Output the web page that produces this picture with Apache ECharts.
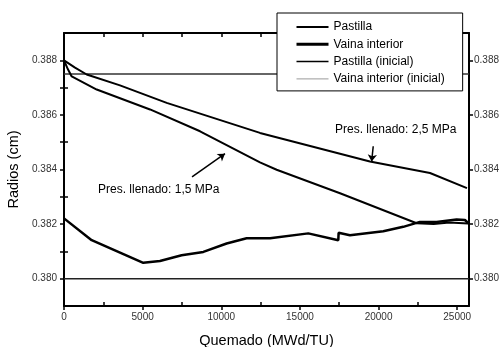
<!DOCTYPE html>
<html><head><meta charset="utf-8">
<script src="https://cdn.jsdelivr.net/npm/echarts@6/dist/echarts.min.js"></script>
<style>html,body{margin:0;padding:0;background:#fff}#c{width:502px;height:347px}</style>
</head><body><div id="c"></div>
<script>
const burnup25 = [0,120,700,1443,3560,6530,12460,19450,23270,25620];
const pastilla25 = [0.3880,0.38793,0.38773,0.38748,0.38708,0.38644,0.38534,0.38429,0.38387,0.38332];
const burnup15 = [0,250,490,2080,5470,8650,12460,13520,17550,22420,23500,24500,25700];
const pastilla15 = [0.3880,0.38767,0.38741,0.38693,0.38620,0.38540,0.38426,0.38399,0.38313,0.38203,0.38200,0.38206,0.38202];
const burnupVaina = [0,1760,5040,6100,7480,8860,10340,11610,13100,15530,17440,17460,18180,20300,21570,22630,23690,24960,25490,25710];
const vaina = [0.38221,0.38141,0.38058,0.38065,0.38086,0.38098,0.38129,0.38148,0.38148,0.38166,0.38141,0.38168,0.38159,0.38174,0.38190,0.38208,0.38208,0.38217,0.38215,0.38203];
const burnupRange = [0,25750];
const pastillaInicial = [0.3875,0.3875];
const vainaInicial = [0.3800,0.3800];
const xTicks = [0,5000,10000,15000,20000,25000];
const xMinor = [2500,7500,12500,17500,22500];
const yTicks = [0.380,0.382,0.384,0.386,0.388];
const yMinor = [0.381,0.383,0.385,0.387];
const arrow25 = [[19660,0.38485],[19560,0.38429]];
const arrow15 = [[8140,0.38373],[10235,0.38458]];

const zip = (a,b)=>a.map((v,i)=>[v,b[i]]);
const FONT = 'Liberation Sans, Arial, sans-serif';
const chart = echarts.init(document.getElementById('c'));
const xBase = {type:'value', min:burnupRange[0], max:burnupRange[1], splitLine:{show:false}};
const yBase = {type:'value', min:0.379, max:0.389, splitLine:{show:false}};
const tickStyle = {color:'#000', width:1.5};
const lblStyle = {fontSize:10, color:'#333', fontFamily:FONT};
const arrowLine = (pts)=>({silent:true, symbol:['none','arrow'], symbolSize:7, label:{show:false},
  lineStyle:{color:'#000', width:1.5, type:'solid'}, data:[[{coord:pts[0]},{coord:pts[1]}]]});

chart.setOption({
  animation:false,
  textStyle:{fontFamily:FONT},
  grid:{left:64, right:33, top:33, bottom:41, containLabel:false, outerBoundsMode:'none'},
  xAxis:[
    Object.assign({}, xBase, {position:'bottom',
      axisLine:{onZero:false, lineStyle:{color:'#000', width:2}},
      axisTick:{customValues:xTicks, inside:false, length:4, lineStyle:tickStyle},
      axisLabel:{customValues:xTicks, margin:6, formatter:v=>String(v), ...lblStyle},
      name:'Quemado (MWd/TU)', nameLocation:'middle', nameGap:27,
      nameTextStyle:{fontSize:14.5, color:'#000', fontFamily:FONT}}),
    Object.assign({}, xBase, {position:'bottom', axisLine:{show:false},
      axisTick:{customValues:xMinor, inside:true, length:4, lineStyle:tickStyle}, axisLabel:{show:false}}),
    Object.assign({}, xBase, {position:'top',
      axisLine:{onZero:false, lineStyle:{color:'#000', width:2}},
      axisTick:{customValues:xTicks.concat(xMinor), inside:true, length:4, lineStyle:tickStyle}, axisLabel:{show:false}})
  ],
  yAxis:[
    Object.assign({}, yBase, {position:'left',
      axisLine:{show:true, onZero:false, lineStyle:{color:'#000', width:2}},
      axisTick:{customValues:yTicks, inside:false, length:4, lineStyle:tickStyle},
      axisLabel:{customValues:yTicks, margin:7, formatter:v=>v.toFixed(3), ...lblStyle},
      name:'Radios (cm)', nameLocation:'middle', nameGap:42,
      nameTextStyle:{fontSize:14.5, color:'#000', fontFamily:FONT}}),
    Object.assign({}, yBase, {position:'left', axisLine:{show:false},
      axisTick:{customValues:yMinor, inside:true, length:4, lineStyle:tickStyle}, axisLabel:{show:false}}),
    Object.assign({}, yBase, {position:'right',
      axisLine:{show:true, onZero:false, lineStyle:{color:'#000', width:2}},
      axisTick:{customValues:yTicks, inside:false, length:4, lineStyle:tickStyle},
      axisLabel:{customValues:yTicks, margin:5, formatter:v=>v.toFixed(3), ...lblStyle}}),
    Object.assign({}, yBase, {position:'right', axisLine:{show:false},
      axisTick:{customValues:yMinor, inside:true, length:4, lineStyle:tickStyle}, axisLabel:{show:false}})
  ],
  legend:{orient:'vertical', left:277, top:13, padding:[8,18,6,18], itemWidth:32, itemHeight:12, itemGap:5.3,
    backgroundColor:'#fff', borderColor:'#000', borderWidth:1, borderRadius:0,
    itemStyle:{opacity:0},
    textStyle:{fontSize:12, color:'#000', fontFamily:FONT},
    data:[
      {name:'Pastilla', lineStyle:{color:'#000', width:2}},
      {name:'Vaina interior', lineStyle:{color:'#000', width:3}},
      {name:'Pastilla (inicial)', lineStyle:{color:'#000', width:1.5}},
      {name:'Vaina interior (inicial)', lineStyle:{color:'#999', width:1}}
    ]},
  graphic:[
    {type:'text', left:335, top:124, style:{text:'Pres. llenado: 2,5 MPa', fontSize:12, fill:'#000', fontFamily:FONT}},
    {type:'text', left:98, top:184, style:{text:'Pres. llenado: 1,5 MPa', fontSize:12, fill:'#000', fontFamily:FONT}}
  ],
  series:[
    {name:'Pastilla (inicial)', type:'line', symbol:'none', data:zip(burnupRange,pastillaInicial),
      lineStyle:{color:'#333', width:1.5}, itemStyle:{color:'#000'}},
    {name:'Vaina interior (inicial)', type:'line', symbol:'none', data:zip(burnupRange,vainaInicial),
      lineStyle:{color:'#222', width:1.5}, itemStyle:{color:'#999'}},
    {name:'Pastilla', type:'line', symbol:'none', data:zip(burnup25,pastilla25),
      lineStyle:{color:'#000', width:2}, itemStyle:{color:'#000'}, markLine:arrowLine(arrow25)},
    {name:'Pastilla', type:'line', symbol:'none', data:zip(burnup15,pastilla15),
      lineStyle:{color:'#000', width:2}, itemStyle:{color:'#000'}, markLine:arrowLine(arrow15)},
    {name:'Vaina interior', type:'line', symbol:'none', data:zip(burnupVaina,vaina),
      lineStyle:{color:'#000', width:2.5}, itemStyle:{color:'#000'}}
  ]
});
</script></body></html>
